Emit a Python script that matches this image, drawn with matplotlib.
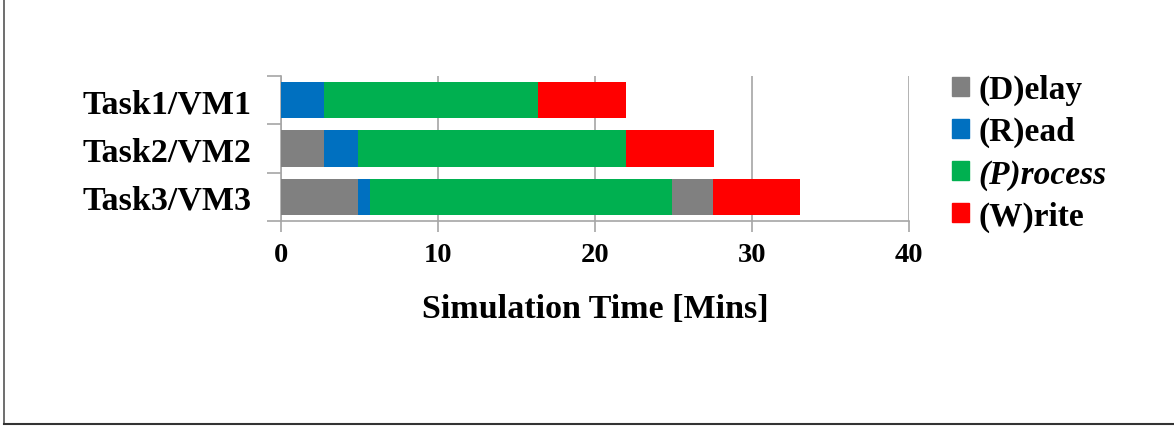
import numpy as np
import matplotlib.pyplot as plt
from matplotlib.patches import Patch
from matplotlib.lines import Line2D

tasks = ["Task1/VM1", "Task2/VM2", "Task3/VM3"]
# segment durations in minutes, drawn left to right
delay = [0.0, 2.75, 4.9]
read = [2.75, 2.15, 0.78]
process = [13.6, 17.05, 19.2]
delay_late = [0.0, 0.0, 2.66]
write = [5.6, 5.6, 5.5]

xticks = [0, 10, 20, 30, 40]
legend_labels = ["(D)elay", "(R)ead", "(P)rocess", "(W)rite"]

GRAY = "#808080"
BLUE = "#0070C0"
GREEN = "#00B050"
RED = "#FF0000"
AXIS = "#A6A6A6"

plt.rcParams["font.family"] = ["Liberation Serif", "DejaVu Serif"]
plt.rcParams["font.weight"] = "bold"

fig = plt.figure(figsize=(11.74, 4.27), dpi=100)
ax = fig.add_axes([281 / 1174, 1 - 222 / 427, (909 - 281) / 1174, (222 - 77) / 427])

y = np.arange(len(tasks))
left = np.zeros(len(tasks))
for vals, col in [(delay, GRAY), (read, BLUE), (process, GREEN),
                  (delay_late, GRAY), (write, RED)]:
    ax.barh(y, vals, left=left, height=0.75, color=col, zorder=3)
    left = left + np.array(vals)

ax.set_ylim(2.5, -0.5)
ax.set_xlim(0, 40)
ax.set_yticks(y)
ax.set_yticklabels(tasks, fontsize=24.5, fontweight="bold")
ax.set_yticks([-0.5, 0.5, 1.5, 2.5], minor=True)
ax.tick_params(axis="y", which="major", length=0, pad=21)
ax.tick_params(axis="y", which="minor", length=10, color=AXIS, width=1.2)

ax.set_xticks(xticks)
ax.set_xticklabels([str(t) for t in xticks], fontsize=20.5, fontweight="bold")
ax.tick_params(axis="x", length=8, color=AXIS, width=1.2, pad=7)
ax.grid(axis="x", color=AXIS, linewidth=1.2, zorder=0)

for side in ["top", "right"]:
    ax.spines[side].set_visible(False)
for side in ["left", "bottom"]:
    ax.spines[side].set_color(AXIS)
    ax.spines[side].set_linewidth(1.2)

ax.set_xlabel("Simulation Time [Mins]", fontsize=24.5, fontweight="bold", labelpad=19)

handles = [Patch(color=c) for c in [GRAY, BLUE, GREEN, RED]]
leg = fig.legend(handles, legend_labels, loc="upper left",
                 bbox_to_anchor=(922 / 1174, 1 - 45 / 427), frameon=False,
                 prop={"size": 24, "weight": "bold"}, handlelength=0.5,
                 handleheight=0.5, handletextpad=0.3, labelspacing=0.33)
leg.get_texts()[2].set_fontstyle("italic")

# frame lines at the figure's left and bottom edges
fig.add_artist(Line2D([3.5 / 1174, 3.5 / 1174], [1, 2 / 427],
                      transform=fig.transFigure, color="#555555", linewidth=1.2))
fig.add_artist(Line2D([3.5 / 1174, 1], [2 / 427, 2 / 427],
                      transform=fig.transFigure, color="#333333", linewidth=1.5))

fig.savefig("out.png", dpi=100)
